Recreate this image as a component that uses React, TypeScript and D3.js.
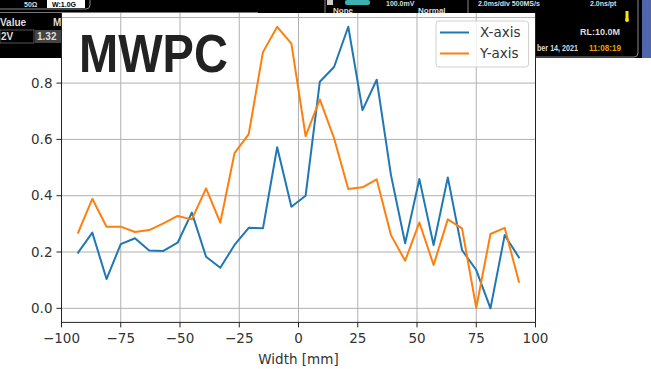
import React from 'react';
import * as d3 from 'd3';

// positions along the chamber [mm]
const widthMm = [-93, -87, -81, -75, -69, -63, -57, -51, -45, -39, -33, -27, -21, -15, -9, -3,
  3, 9, 15, 21, 27, 33, 39, 45, 51, 57, 63, 69, 75, 81, 87, 93];

const xAxisProfile = [0.198, 0.269, 0.104, 0.228, 0.249, 0.205, 0.204, 0.233, 0.34, 0.183, 0.144, 0.225,
  0.286, 0.284, 0.572, 0.361, 0.4, 0.805, 0.857, 1.0, 0.704, 0.812, 0.474, 0.231, 0.459, 0.225,
  0.465, 0.207, 0.136, 0.0, 0.26, 0.181];

const yAxisProfile = [0.269, 0.389, 0.29, 0.29, 0.271, 0.278, 0.302, 0.328, 0.316, 0.426, 0.304, 0.551,
  0.619, 0.91, 1.0, 0.94, 0.612, 0.742, 0.604, 0.424, 0.43, 0.458, 0.26, 0.169, 0.305, 0.154,
  0.316, 0.284, 0.002, 0.264, 0.286, 0.094];

const xTicks = [-100, -75, -50, -25, 0, 25, 50, 75, 100];
const yTicks = [0.0, 0.2, 0.4, 0.6, 0.8];

const seriesNames = ['X-axis', 'Y-axis'];
const seriesColors = ['#1f77b4', '#ff7f0e'];

const W = 651;
const H = 369;

const App: React.FC = () => {
  const x = d3.scaleLinear().domain([-100, 100]).range([61.5, 535.5]);
  const y = d3.scaleLinear().domain([-0.05, 1.05]).range([322.4, 12.7]);

  const line = d3.line<number>()
    .x((_, i) => x(widthMm[i]))
    .y((d) => y(d));

  const series = [xAxisProfile, yAxisProfile];
  const font = 'DejaVu Sans, sans-serif';
  const scopeFont = 'Liberation Sans, Arial, sans-serif';

  return (
    <svg width={W} height={H} style={{ position: 'fixed', left: 0, top: 0, background: '#fff' }}>
      {/* scope screenshot behind the plot */}
      <g fontFamily={scopeFont} fontWeight="bold">
        <rect x={0} y={0} width={641} height={13} fill="#000" />
        <rect x={0} y={0} width={61} height={58} fill="#000" />
        <rect x={535} y={0} width={107} height={58} fill="#000" />
        <rect x={642} y={0} width={9} height={58} fill="#4f66ad" />
        <path d="M0,9 H86 a4,4 0 0 0 4,-4 V0" fill="none" stroke="#888" strokeWidth={1} />
        <rect x={47} y={0} width={38} height={8} fill="#fff" />
        <text x={52} y={7} fontSize={7} fill="#000">W:1.0G</text>
        <text x={24} y={7} fontSize={7} fill="#ddd">50Ω</text>
        <line x1={0} y1={12.5} x2={258} y2={12.5} stroke="#777" />
        <line x1={325} y1={0} x2={325} y2={13} stroke="#888" />
        <rect x={327} y={0} width={6} height={5} fill="#ccc" />
        <rect x={345} y={0} width={25} height={5} rx={2} fill="#3bb3b3" />
        <text x={386} y={6} fontSize={7} fill="#ddd">100.0mV</text>
        <text x={333} y={13} fontSize={8} fill="#ddd">None</text>
        <text x={418} y={13} fontSize={8} fill="#ddd">Normal</text>
        <path d="M468,0 V13" stroke="#888" />
        <text x={478} y={6} fontSize={7} fill="#ddd">2.0ms/div  500MS/s</text>
        <text x={590} y={6} fontSize={7} fill="#ddd">2.0ns/pt</text>
        <path d="M638,0 V53 a4,4 0 0 1 -4,4 H535" fill="none" stroke="#888" />
        <rect x={625.5} y={11} width={3} height={8} fill="#ffe600" />
        <circle cx={627} cy={20} r={2} fill="#ffe600" />
        <text x={580} y={35} fontSize={9} fill="#ddd" textLength={40} lengthAdjust="spacingAndGlyphs">RL:10.0M</text>
        <text x={537} y={51} fontSize={9} fill="#ddd" textLength={41} lengthAdjust="spacingAndGlyphs">ber 14, 2021</text>
        <text x={589} y={51} fontSize={9} fill="#e8a000" textLength={32} lengthAdjust="spacingAndGlyphs">11:08:19</text>
      </g>

      {/* plot area */}
      <rect x={x(-100)} y={13} width={x(100) - x(-100)} height={y(-0.05) - 13} fill="#fff" />

      {/* grid */}
      <g stroke="#b0b0b0" strokeWidth={1}>
        {xTicks.map((t) => (
          <line key={'gx' + t} x1={x(t)} x2={x(t)} y1={13} y2={y(-0.05)} />
        ))}
        {yTicks.map((t) => (
          <line key={'gy' + t} x1={x(-100)} x2={x(100)} y1={y(t)} y2={y(t)} />
        ))}
        <line x1={x(-100)} x2={x(100)} y1={17.5} y2={17.5} />
      </g>

      <text x={79} y={72} fontFamily="Liberation Sans, Arial, sans-serif" fontWeight="bold" fontSize={54}
        fill="#222" textLength={149} lengthAdjust="spacingAndGlyphs">MWPC</text>

      {/* data */}
      {series.map((s, i) => (
        <path key={seriesNames[i]} d={line(s) || ''} fill="none" stroke={seriesColors[i]} strokeWidth={2}
          strokeLinejoin="round" strokeLinecap="square" />
      ))}

      {/* spines */}
      <g stroke="#222" strokeWidth={1} fill="none">
        <line x1={x(-100)} x2={x(-100)} y1={13} y2={y(-0.05)} />
        <line x1={x(100)} x2={x(100)} y1={13} y2={y(-0.05)} />
        <line x1={x(-100)} x2={x(100)} y1={y(-0.05)} y2={y(-0.05)} />
      </g>

      {/* x axis ticks */}
      <g fontFamily={font} fontSize={13.5} fill="#333">
        {xTicks.map((t) => (
          <g key={'xt' + t}>
            <line x1={x(t)} x2={x(t)} y1={y(-0.05)} y2={y(-0.05) + 5} stroke="#222" />
            <text x={x(t)} y={343} textAnchor="middle">{t < 0 ? '\u2212' + Math.abs(t) : String(t)}</text>
          </g>
        ))}
        <text x={x(0)} y={364} textAnchor="middle">Width [mm]</text>
      </g>

      {/* y axis ticks */}
      <g fontFamily={font} fontSize={13.5} fill="#333">
        {yTicks.map((t) => (
          <g key={'yt' + t}>
            <line x1={x(-100) - 5} x2={x(-100)} y1={y(t)} y2={y(t)} stroke="#222" />
            <text x={x(-100) - 9} y={y(t)} dy="0.35em" textAnchor="end">{t.toFixed(1)}</text>
          </g>
        ))}
      </g>

      {/* left panel of the scope screen, in front of the axis */}
      <g fontFamily={scopeFont} fontWeight="bold" fontSize={10} fill="#ddd">
        <rect x={0} y={13} width={61} height={45} fill="#000" />
        <rect x={0} y={30} width={34} height={13} fill="#000" stroke="#555" />
        <rect x={35} y={30} width={26} height={13} fill="#444" />
        <text x={0} y={26}>Value</text>
        <text x={53} y={26}>M</text>
        <text x={1} y={40}>2V</text>
        <text x={37} y={40}>1.32</text>
      </g>

      {/* legend */}
      <g>
        <rect x={436} y={21} width={92.5} height={46} rx={3} fill="#fff" fillOpacity={0.8} stroke="#d0d0d0" />
        {seriesNames.map((n, i) => (
          <g key={'lg' + n}>
            <line x1={440} x2={469} y1={32.5 + i * 21} y2={32.5 + i * 21} stroke={seriesColors[i]} strokeWidth={2} />
            <text x={480} y={32.5 + i * 21} dy="0.35em" fontFamily={font} fontSize={13.5} fill="#333">{n}</text>
          </g>
        ))}
      </g>
    </svg>
  );
};

export default App;
